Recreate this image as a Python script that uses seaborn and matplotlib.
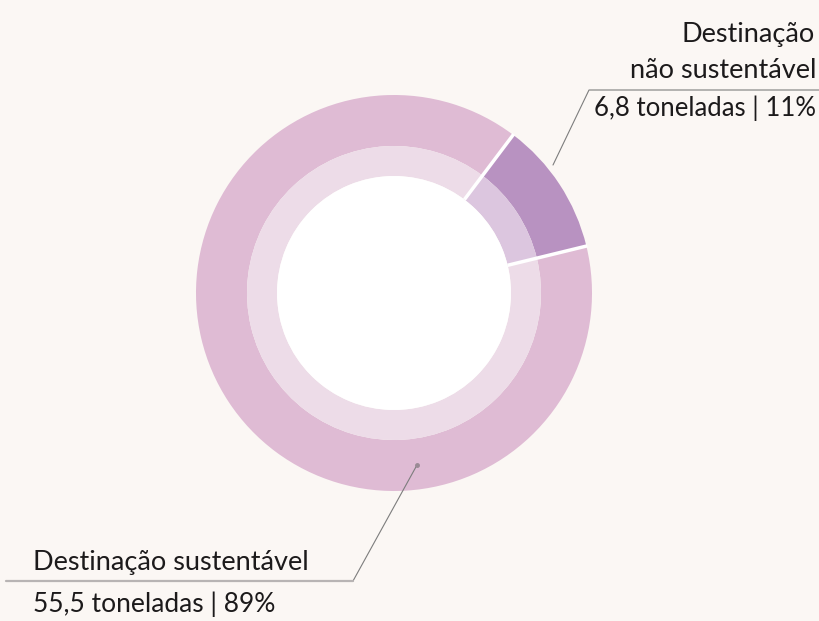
import numpy as np
import matplotlib.pyplot as plt
import seaborn as sns

# destinação dos resíduos
categorias = ["Destinação sustentável", "Destinação não sustentável"]
toneladas = [55.5, 6.8]
percentuais = [89, 11]
cores_externas = ["#dfbbd4", "#b892c1"]
cores_internas = ["#eddce8", "#dcc6df"]

sns.set_theme(style="white")
plt.rcParams['font.family'] = ['Lato', 'DejaVu Sans']

fundo = "#fbf7f4"
fig = plt.figure(figsize=(8.19, 6.21), dpi=100)
fig.patch.set_facecolor(fundo)
ax = fig.add_axes([0, 0, 1, 1])

H = 621  # altura em pixels, para trabalhar em coordenadas da imagem
cx, cy = 394, H - 293
r_ext, r_int, r_buraco = 198, 147, 117

fatias, _ = ax.pie(toneladas, radius=r_ext, center=(cx, cy), colors=cores_externas,
                   startangle=53, counterclock=True,
                   wedgeprops=dict(width=r_ext - r_int, linewidth=0))
ax.pie(toneladas, radius=r_int, center=(cx, cy), colors=cores_internas,
       startangle=53, counterclock=True,
       wedgeprops=dict(width=r_int - r_buraco, linewidth=0))
ax.pie([1], radius=r_buraco, center=(cx, cy), colors=["white"],
       wedgeprops=dict(linewidth=0))

# separadores brancos entre as fatias (só radiais)
for f in fatias:
    a = np.deg2rad(f.theta1)
    ax.plot([cx + r_buraco * np.cos(a), cx + (r_ext + 1) * np.cos(a)],
            [cy + r_buraco * np.sin(a), cy + (r_ext + 1) * np.sin(a)],
            color="white", lw=2.5, solid_capstyle="butt")

ax.set_xlim(0, 819)
ax.set_ylim(0, H)
ax.set_aspect("equal")
ax.axis("off")


def rotulo(t, p):
    return f"{t:.1f}".replace(".", ",") + f" toneladas | {p}%"


cor_texto = "#1c1a1b"
fs = 19.5
txt = dict(color=cor_texto, va="baseline")

# rótulo superior (não sustentável)
ax.plot([553, 589, 819], [H - 165, H - 90, H - 90], color="#7d7d7d", lw=0.8)
ax.text(815, H - 42, "Destinação", ha="right", fontsize=fs, **txt)
ax.text(816, H - 78, "não sustentável", ha="right", fontsize=fs, **txt)
ax.text(816, H - 116, rotulo(toneladas[1], percentuais[1]), ha="right",
        fontsize=fs - 1, **txt)

# rótulo inferior (sustentável)
ax.plot([417, 353], [H - 465, H - 581], color="#7d7d7d", lw=0.8)
ax.plot([353, 6], [H - 581, H - 581], color="#b8b4b4", lw=1.6)
ax.plot([417], [H - 465], "o", color="#9a8a95", ms=2.5)
ax.text(33, H - 570, categorias[0], ha="left", fontsize=fs, **txt)
ax.text(33, H - 612, rotulo(toneladas[0], percentuais[0]), ha="left",
        fontsize=fs - 0.5, **txt)

fig.savefig("out.png", dpi=100, facecolor=fundo)
